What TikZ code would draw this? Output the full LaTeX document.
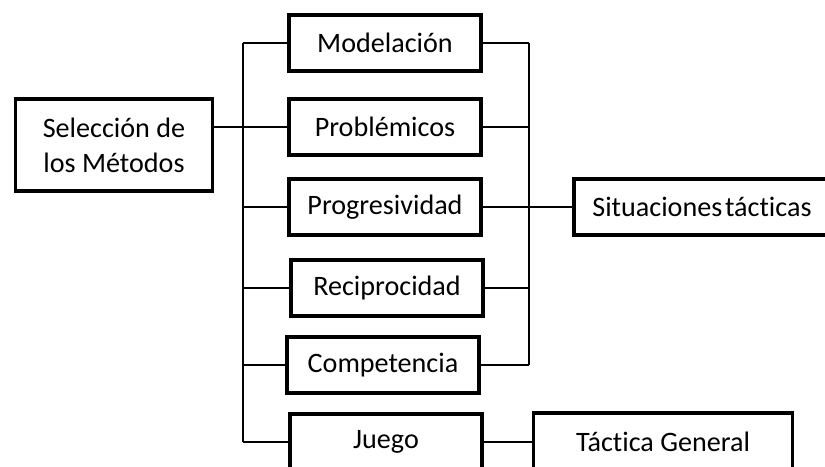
\documentclass[tikz,border=0pt]{standalone}
\usepackage{fontspec}
\setmainfont{Carlito}[Ligatures=NoCommon]

\begin{document}
\begin{tikzpicture}[x=0.025cm,y=-0.025cm,line width=0.9pt,
  every node/.style={draw,rectangle,line width=2.6pt,inner sep=0pt,font=\fontsize{20}{25}\selectfont},
  metodo/.style={minimum width=4.8cm,minimum height=1.4cm}]
\clip (0,0) rectangle (825,467);
\node[minimum width=4.925cm,minimum height=2.3cm,align=center]
                 (sel)   at (114,145) { Selección de\\los Métodos };
\node[metodo]    (mod)   at (385,43)  { Modelación };
\node[metodo]    (prob)  at (385,127) { Problémicos };
\node[metodo]    (prog)  at (385,207) { Progresividad };
\node[metodo]    (rec)   at (387,288) { Reciprocidad };
\node[metodo]    (comp)  at (383,365) { Competencia };
\node[metodo]    (juego) at (386,442) { Juego };
\node[minimum width=6.4cm,minimum height=1.4cm]
                 (sit)   at (702,207) { Situaciones\hspace{0.1em}tácticas };
\node[minimum width=6.475cm,minimum height=1.45cm]
                 (tact)  at (663,442) { Táctica General };
\coordinate      (izqA)  at (243,43);
\coordinate      (izqB)  at (243,442);
\coordinate      (derA)  at (529,43);
\coordinate      (derB)  at (529,365);
\draw            (izqA) -- (izqB);
\draw            (derA) -- (derB);
\draw            (sel.east |- prob.west) -- (prob.west);
\draw            (izqA |- mod.west) -- (mod.west);
\draw            (izqA |- prob.west) -- (prob.west);
\draw            (izqA |- prog.west) -- (prog.west);
\draw            (izqA |- rec.west) -- (rec.west);
\draw            (izqA |- comp.west) -- (comp.west);
\draw            (izqA |- juego.west) -- (juego.west);
\draw            (mod.east) -- (derA |- mod.east);
\draw            (prob.east) -- (derA |- prob.east);
\draw            (prog.east) -- (derA |- prog.east);
\draw            (rec.east) -- (derA |- rec.east);
\draw            (comp.east) -- (derA |- comp.east);
\draw            (derA |- sit.west) -- (sit.west);
\draw            (juego) -- (tact);
\end{tikzpicture}
\end{document}
